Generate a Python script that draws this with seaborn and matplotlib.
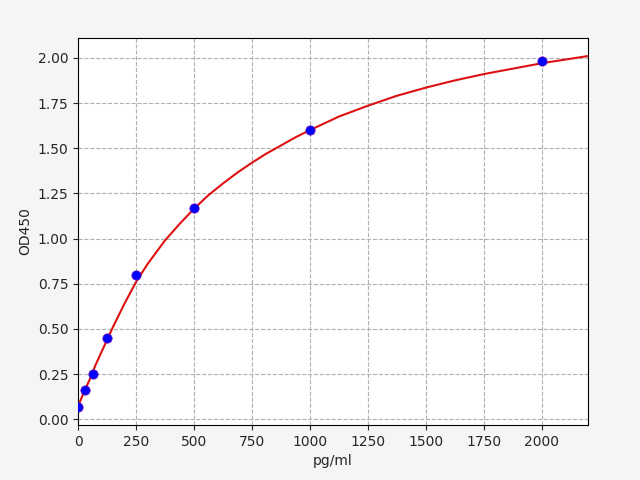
import matplotlib
matplotlib.use("Agg")
import matplotlib.pyplot as plt
import seaborn as sns

conc = [0, 31.25, 62.5, 125, 250, 500, 1000, 2000]
od = [0.07, 0.16, 0.25, 0.45, 0.80, 1.17, 1.60, 1.98]

curve_x = [0, 12, 25, 50, 75, 100, 150, 200, 250, 300, 375, 437, 500, 562, 625, 687, 750, 812, 875, 937,
           1000, 1125, 1250, 1375, 1500, 1625, 1750, 1875, 2000, 2100, 2200]
curve_y = [0.07, 0.11, 0.15, 0.22, 0.30, 0.37, 0.51, 0.64, 0.76, 0.86, 0.99, 1.08, 1.165, 1.24, 1.305, 1.365,
           1.42, 1.47, 1.515, 1.56, 1.60, 1.675, 1.735, 1.79, 1.835, 1.875, 1.91, 1.94, 1.97, 1.99, 2.01]

sns.set_style("white")
fig, ax = plt.subplots(figsize=(6.4, 4.8), dpi=100)
fig.subplots_adjust(left=0.122, right=0.919, top=0.921, bottom=0.115)
fig.patch.set_facecolor("#f5f5f5")
ax.set_facecolor("white")

sns.lineplot(x=curve_x, y=curve_y, ax=ax, color="#dd1111", linewidth=1.5)
sns.scatterplot(x=conc, y=od, ax=ax, color="blue", edgecolor="#6a0dad", s=45, zorder=3)

ax.set_xlim(0, 2200)
ax.set_ylim(-0.03, 2.11)
ax.set_xticks(range(0, 2001, 250))
ax.set_yticks([0, 0.25, 0.5, 0.75, 1.0, 1.25, 1.5, 1.75, 2.0])
ax.grid(True, linestyle="--", color="#b0b0b0", linewidth=0.8)
ax.set_xlabel("pg/ml")
ax.set_ylabel("OD450")
for s in ax.spines.values():
    s.set_color("black")
    s.set_linewidth(0.8)
ax.tick_params(direction="out", length=3.5, width=0.8, bottom=True, left=True)
fig.savefig("out.png", dpi=100, facecolor=fig.get_facecolor())
